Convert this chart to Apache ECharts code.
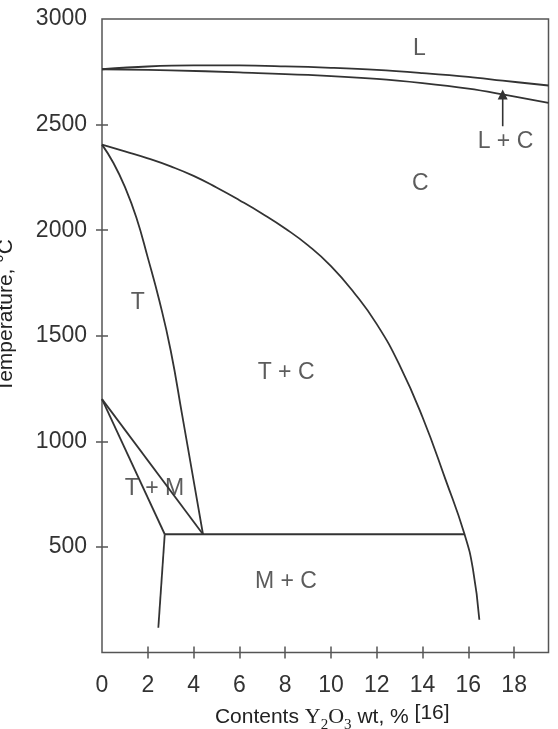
<!DOCTYPE html>
<html><head><meta charset="utf-8">
<script src="https://cdn.jsdelivr.net/npm/echarts@6/dist/echarts.min.js"></script>
<style>html,body{margin:0;padding:0;background:#fff}#c{width:558px;height:729px}</style>
</head><body><div id="c"></div>
<script>
// tick values / labels
const xTickValues = [2, 4, 6, 8, 10, 12, 14, 16, 18];
const xLabelValues = [0, 2, 4, 6, 8, 10, 12, 14, 16, 18];
const yTickValues = [500, 1000, 1500, 2000, 2500];
const yLabelValues = [500, 1000, 1500, 2000, 2500, 3000];

// phase boundaries [wt% Y2O3, °C]
const liquidus = [[0,2762],[2,2775],[4,2780],[6,2780],[8,2776],[10,2769],[12,2759],[14,2744],[16,2726],[17.5,2708],[19.5,2685]];
const solidus = [[0,2762],[3,2757],[6,2747],[9,2735],[12,2716],[14,2696],[16,2670],[17.5,2643],[19.5,2603]];
const cubicBoundary = [[0,2405],[1,2373],[2,2340],[3,2302],[4,2257],[5,2202],[6,2142],[7,2078],[8,2008],[9,1928],[10,1830],[11,1705],[12,1555],[13,1360],[14,1114],[15,820],[15.83,561],[16.2,395],[16.48,155]];
const tetragonalBoundary = [[0,2405],[0.5,2318],[1,2205],[1.5,2060],[2,1870],[2.5,1668],[3,1430],[3.5,1125],[4,815],[4.41,560]];
const tmLeft = [[0,1200],[2.74,560]];
const tmRight = [[0,1200],[4.41,560]];
const eutectoid = [[2.74,560],[15.83,560]];
const mcLeft = [[2.74,560],[2.46,117]];
const arrowLine = [[17.5,2492],[17.5,2642]];

// region labels
const regionNames = ['L', 'L + C', 'C', 'T', 'T + C', 'T + M', 'M + C'];
const regionX = [13.86, 17.62, 13.9, 1.56, 8.04, 2.29, 8.03];
const regionT = [2860, 2421, 2219, 1657, 1326, 776, 336];

const FONT = '"Liberation Sans", Arial, sans-serif';
const SERIF = '"Liberation Serif", "Times New Roman", serif';
const lineColor = '#333';
const lineStyle = { color: lineColor, width: 1.8 };

function boundary(data, smooth) {
  return {
    type: 'line', data: data, symbol: 'none', smooth: smooth || false,
    lineStyle: lineStyle, silent: true, animation: false, z: 3
  };
}

const chart = echarts.init(document.getElementById('c'), null, { renderer: 'canvas' });

const axisCommonX = {
  type: 'value', min: 0, max: 19.5, gridIndex: 0,
  splitLine: { show: false }, axisLine: { show: false }
};
const axisCommonY = {
  type: 'value', min: 0, max: 3000, gridIndex: 0,
  splitLine: { show: false }, axisLine: { show: false }
};

chart.setOption({
  animation: false,
  backgroundColor: '#fff',
  grid: {
    left: 102, top: 19, width: 446.5, height: 633.5,
    containLabel: false, outerBoundsMode: 'none',
    show: true, borderColor: '#555', borderWidth: 1.5, backgroundColor: 'transparent'
  },
  xAxis: [
    Object.assign({}, axisCommonX, {
      position: 'bottom',
      axisTick: { show: true, inside: false, length: 6, customValues: xTickValues, lineStyle: { color: '#555', width: 1.5 } },
      axisLabel: { show: true, customValues: xLabelValues, formatter: v => String(v), margin: 22, color: '#333', fontSize: 23, fontFamily: FONT },
      name: '{s|Contents }{ser|Y}{sub|2}{ser|O}{sub|3}{s| wt, % }{ref|[16]}',
      nameLocation: 'middle', nameGap: 50,
      nameTextStyle: {
        padding: [0, 0, 0, 14],
        rich: {
          s: { fontFamily: FONT, fontSize: 21, color: '#222', lineHeight: 26 },
          ser: { fontFamily: SERIF, fontSize: 22, color: '#222', lineHeight: 26 },
          sub: { fontFamily: SERIF, fontSize: 15, color: '#222', lineHeight: 15, verticalAlign: 'bottom' },
          ref: { fontFamily: FONT, fontSize: 21, color: '#222', lineHeight: 30, verticalAlign: 'top' }
        }
      }
    }),
    Object.assign({}, axisCommonX, {
      position: 'bottom',
      axisTick: { show: true, inside: true, length: 6, customValues: xTickValues, lineStyle: { color: '#555', width: 1.5 } },
      axisLabel: { show: false }
    })
  ],
  yAxis: [
    Object.assign({}, axisCommonY, {
      position: 'left',
      axisTick: { show: true, inside: false, length: 6, customValues: yTickValues, lineStyle: { color: '#555', width: 1.5 } },
      axisLabel: { show: true, customValues: yLabelValues, formatter: v => String(v), margin: 15, color: '#333', fontSize: 23, fontFamily: FONT },
      name: 'Temperature, °C',
      nameLocation: 'middle', nameGap: 85, nameRotate: 90,
      nameTextStyle: { fontFamily: FONT, fontSize: 21, color: '#222', padding: [0, 0, 0, 40] }
    }),
    Object.assign({}, axisCommonY, {
      position: 'left',
      axisTick: { show: true, inside: true, length: 6, customValues: yTickValues, lineStyle: { color: '#555', width: 1.5 } },
      axisLabel: { show: false }
    })
  ],
  series: [
    boundary(liquidus, 0.4),
    boundary(solidus, 0.4),
    boundary(cubicBoundary, 0.5),
    boundary(tetragonalBoundary, 0.5),
    boundary(tmLeft),
    boundary(tmRight),
    boundary(eutectoid),
    boundary(mcLeft),
    {
      type: 'line', silent: true, z: 4,
      lineStyle: { color: lineColor, width: 1.6 },
      data: [
        { value: arrowLine[0], symbol: 'none' },
        { value: arrowLine[1], symbol: 'triangle', symbolSize: [10, 10], itemStyle: { color: lineColor } }
      ]
    },
    {
      type: 'scatter', silent: true, symbolSize: 0, z: 5,
      data: regionNames.map((n, i) => ({ name: n, value: [regionX[i], regionT[i]] })),
      label: {
        show: true, position: 'inside', formatter: p => p.name,
        fontFamily: FONT, fontSize: 23, color: '#333'
      }
    }
  ]
});
</script>
</body></html>
